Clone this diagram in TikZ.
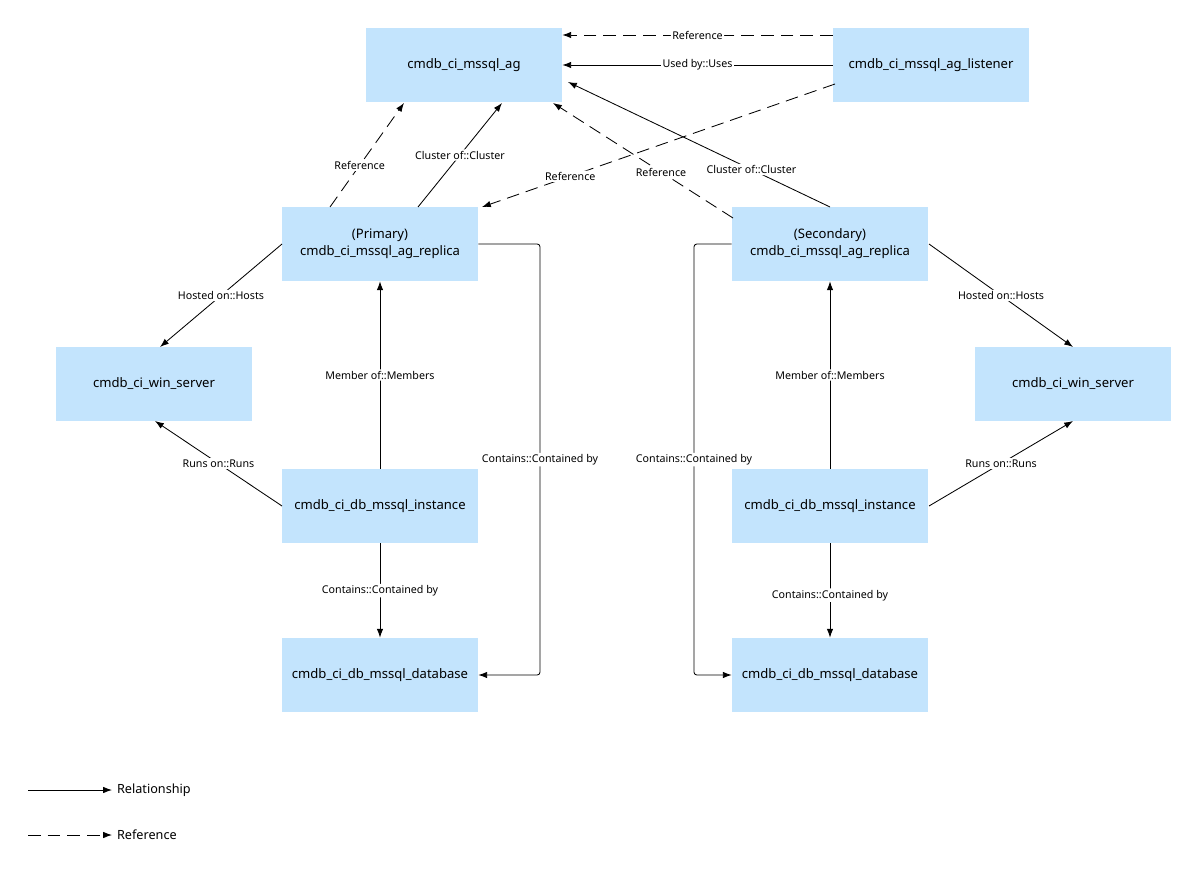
\documentclass[tikz,border=0pt]{standalone}
\usepackage{fontspec}
\setmainfont{Noto Sans}
\usetikzlibrary{arrows.meta}
\definecolor{boxblue}{HTML}{C3E4FD}
\begin{document}
\begin{tikzpicture}[x=0.025cm,y=-0.025cm]

	\tikzset{ci/.style={fill=boxblue,minimum width=4.9cm,minimum height=1.85cm,align=center,font=\fontsize{9.3}{12}\selectfont,inner sep=0pt},
		rel/.style={-{Latex[length=2.2mm,width=1.6mm]},line width=0.6pt,rounded corners=2pt},
		ref/.style={rel,dash pattern=on 9pt off 5pt},
		lbl/.style={fill=white,inner sep=1pt,font=\fontsize{7.6}{9}\selectfont}}
	\useasboundingbox (0,0) rectangle (1200,872);

	\node[ci] (ag) at (464,65) {cmdb\_ci\_mssql\_ag};
	\node[ci] (lsn) at (931,65) {cmdb\_ci\_mssql\_ag\_listener};
	\node[ci] (pri) at (380,244) {(Primary)\\cmdb\_ci\_mssql\_ag\_replica};
	\node[ci] (sec) at (830,244) {(Secondary)\\cmdb\_ci\_mssql\_ag\_replica};
	\node[ci] (winl) at (154,384) {cmdb\_ci\_win\_server};
	\node[ci] (winr) at (1073,384) {cmdb\_ci\_win\_server};
	\node[ci] (insl) at (380,506) {cmdb\_ci\_db\_mssql\_instance};
	\node[ci] (insr) at (830,506) {cmdb\_ci\_db\_mssql\_instance};
	\node[ci] (dbl) at (380,675) {cmdb\_ci\_db\_mssql\_database};
	\node[ci] (dbr) at (830,675) {cmdb\_ci\_db\_mssql\_database};

	% top
	\draw[ref] (lsn.west|-0,35) -- node[lbl]{Reference} (ag.east|-0,35);
	\draw[rel] (lsn) -- node[lbl]{Used by::Uses} (ag);
	\draw[ref] (835,84) -- node[lbl,pos=0.75]{Reference} (482,207);
	\draw[ref] (733,218) -- node[lbl,pos=0.4]{Reference} (553,103);
	\draw[rel] (830,207) -- node[lbl,pos=0.3]{Cluster of::Cluster} (568,82);
	\draw[ref] (330,207) -- node[lbl,pos=0.4]{Reference} (404,103);
	\draw[rel] (418,207) -- node[lbl,pos=0.5]{Cluster of::Cluster} (502,103);

	% primary side
	\draw[rel] (282,244) -- node[lbl]{Hosted on::Hosts} (160,347);
	\draw[rel] (insl) -- node[lbl]{Member of::Members} (pri);
	\draw[rel] (282,506) -- node[lbl]{Runs on::Runs} (155,421);
	\draw[rel] (insl) -- node[lbl]{Contains::Contained by} (dbl);
	\draw[rel] (pri.east) -- (540,244) -- node[lbl]{Contains::Contained by} (540,675) -- (dbl.east);

	% secondary side
	\draw[rel] (929,244) -- node[lbl]{Hosted on::Hosts} (1073,347);
	\draw[rel] (insr) -- node[lbl]{Member of::Members} (sec);
	\draw[rel] (929,506) -- node[lbl]{Runs on::Runs} (1073,421);
	\draw[rel] (insr) -- node[lbl,pos=0.55]{Contains::Contained by} (dbr);
	\draw[rel] (sec.west) -- (694,244) -- node[lbl]{Contains::Contained by} (694,675) -- (dbr.west);

	% legend
	\coordinate (l1a) at (28,790); \coordinate (l1b) at (112,790);
	\coordinate (l2a) at (28,835); \coordinate (l2b) at (112,835);
	\draw[rel] (l1a) -- (l1b) node[right,font=\fontsize{9}{11}\selectfont] {Relationship};
	\draw[ref] (l2a) -- (l2b) node[right,font=\fontsize{9}{11}\selectfont] {Reference};

\end{tikzpicture}
\end{document}
